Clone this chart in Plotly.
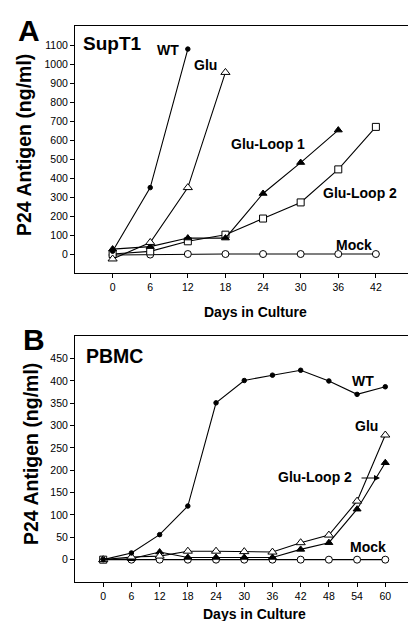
import plotly.graph_objects as go

W, H = 416, 621

# ---- Panel A (SupT1) data ----
days_a = [0, 6, 12, 18, 24, 30, 36, 42]
wt_a = [15, 350, 1080]
glu_a = [-26, 61, 350, 957]
gl1_a = [26, 39, 84, 84, 319, 482, 653]
gl2_a = [0, 14, 67, 102, 187, 272, 446, 670]
mock_a = [-5, -3, 0, 0, 0, 0, 0, 0]
yticks_a = [0, 100, 200, 300, 400, 500, 600, 700, 800, 900, 1000, 1100]

# ---- Panel B (PBMC) data ----
days_b = [0, 6, 12, 18, 24, 30, 36, 42, 48, 54, 60]
wt_b = [0, 15, 56, 120, 351, 401, 413, 424, 400, 370, 387]
glu_b = [0, 6, 8, 19, 19, 18, 17, 38, 55, 131, 279]
gl2_b = [0, 2, 17, 5, 5, 5, 5, 23, 38, 113, 217]
mock_b = [0, 0, 0, 0, 0, 0, 0, 0, 0, 0, 0]
yticks_b = [0, 50, 100, 150, 200, 250, 300, 350, 400, 450]

FONT = "Liberation Sans, Arial, sans-serif"
LW = 1.1

def px(x):
    return x / W

def py(y):
    return 1 - y / H

fig = go.Figure()

def add(xs, ys, xa, ya, symbol, size, fill, name):
    fig.add_trace(go.Scatter(
        x=xs, y=ys, xaxis=xa, yaxis=ya, mode="lines+markers", name=name,
        line=dict(color="black", width=LW),
        marker=dict(symbol=symbol, size=size, color=fill,
                    line=dict(color="black", width=1)),
        showlegend=False, cliponaxis=False))

# Panel A traces
add(days_a[:len(mock_a)], mock_a, "x", "y", "circle", 7, "white", "Mock")
add(days_a[:len(gl2_a)], gl2_a, "x", "y", "square", 7, "white", "Glu-Loop 2")
add(days_a[:len(gl1_a)], gl1_a, "x", "y", "triangle-up", 7, "black", "Glu-Loop 1")
add(days_a[:len(glu_a)], glu_a, "x", "y", "triangle-up", 8, "white", "Glu")
add(days_a[:len(wt_a)], wt_a, "x", "y", "circle", 4.5, "black", "WT")

# Panel B traces
mock_sym_b = ["square"] + ["circle"] * (len(mock_b) - 1)
fig.add_trace(go.Scatter(
    x=days_b, y=mock_b, xaxis="x2", yaxis="y2", mode="lines+markers", name="Mock",
    line=dict(color="black", width=LW),
    marker=dict(symbol=mock_sym_b, size=7, color="white",
                line=dict(color="black", width=1)),
    showlegend=False, cliponaxis=False))
add(days_b, gl2_b, "x2", "y2", "triangle-up", 7, "black", "Glu-Loop 2")
add(days_b, glu_b, "x2", "y2", "triangle-up", 8, "white", "Glu")
add(days_b, wt_b, "x2", "y2", "circle", 4.5, "black", "WT")

xdom = [px(67), px(405.5)]
axis_common = dict(showline=True, linecolor="black", linewidth=1, mirror=True,
                   ticks="outside", ticklen=4, tickcolor="black", tickwidth=1,
                   showgrid=False, zeroline=False, automargin=False,
                   tickfont=dict(family=FONT, size=10.5, color="black"))

fig.update_layout(
    width=W, height=H,
    margin=dict(l=0, r=0, t=0, b=0, pad=0),
    paper_bgcolor="white", plot_bgcolor="white",
    xaxis=dict(domain=xdom, range=[-6, 48], tickvals=days_a, anchor="y", **axis_common),
    yaxis=dict(domain=[py(265), py(18.3)], range=[-100, 1200], tickvals=yticks_a,
               anchor="x", **axis_common),
    xaxis2=dict(domain=xdom, range=[-6, 66], tickvals=days_b, anchor="y2", **axis_common),
    yaxis2=dict(domain=[py(574), py(328.3)], range=[-50, 500], tickvals=yticks_b,
                anchor="x2", **axis_common),
)

def txt(x, y, s, size, xanchor="center", angle=0):
    fig.add_annotation(x=px(x), y=py(y), xref="paper", yref="paper", text="<b>" + s + "</b>",
                       showarrow=False, xanchor=xanchor, yanchor="middle", textangle=angle,
                       font=dict(family=FONT, size=size, color="black"))

# Panel letters
txt(21, 22, "A", 30)
txt(26, 331, "B", 30)
# Axis titles
txt(16, 137, "P24 Antigen (ng/ml)", 19.5, angle=-90)
txt(23, 446, "P24 Antigen (ng/ml)", 19.5, angle=-90)
txt(247, 304, "Days in Culture", 14)
txt(246, 606, "Days in Culture", 14)
# Panel A labels
txt(73, 35, "SupT1", 19, xanchor="left")
txt(160, 42, "WT", 14)
txt(197, 57, "Glu", 14)
txt(260, 136, "Glu-Loop 1", 14)
txt(352, 185, "Glu-Loop 2", 14)
txt(346, 237, "Mock", 14)
# Panel B labels
txt(76, 348, "PBMC", 19.5, xanchor="left")
txt(355, 373, "WT", 14)
txt(358, 418, "Glu", 14)
txt(307, 469, "Glu-Loop 2", 14)
txt(360, 539, "Mock", 14)
# Arrow in panel B
fig.add_annotation(x=px(372), y=py(470), xref="paper", yref="paper", text="",
                   showarrow=True, ax=-20, ay=0, arrowhead=2, arrowsize=1.2,
                   arrowwidth=1, arrowcolor="black")

fig.write_html("out.html")
